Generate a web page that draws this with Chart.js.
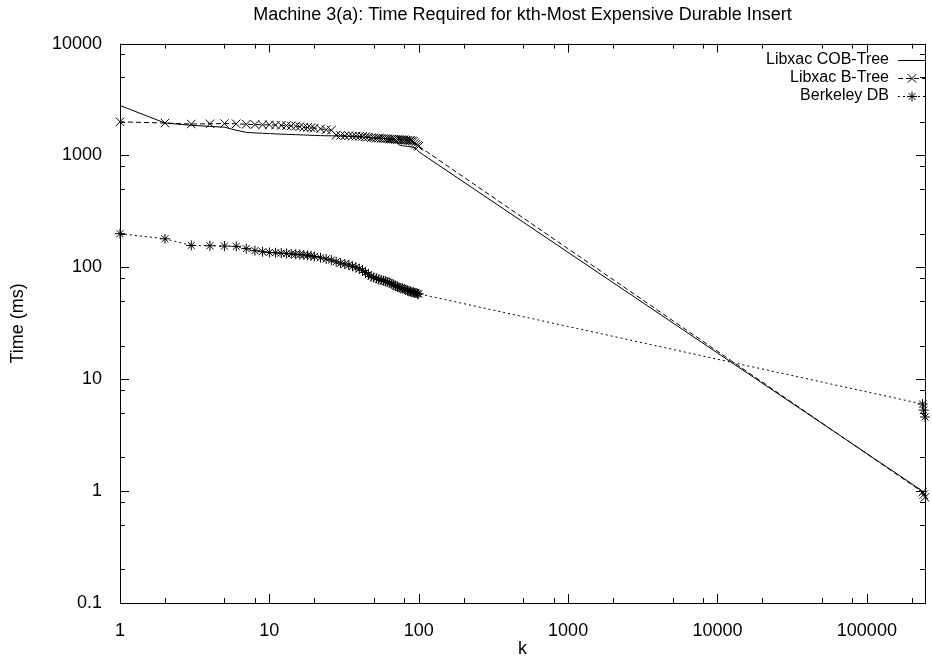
<!DOCTYPE html>
<html>
<head>
<meta charset="utf-8">
<script src="https://cdn.jsdelivr.net/npm/chart.js@4.4.1/dist/chart.umd.min.js"></script>
<style>
  html, body { margin: 0; padding: 0; background: #fff; }
  #wrap { width: 932px; height: 664px; }
</style>
</head>
<body>
<div id="wrap"><canvas id="chart"></canvas></div>
<script>
// k values (rank of insert), shared by all three series
const kValues = [
  1, 2, 3, 4, 5, 6, 7, 8, 9, 10, 11, 12, 13, 14, 15, 16, 17, 18, 19, 20,
  22, 24, 26, 28, 30, 32, 34, 36, 38, 40, 42, 44, 46, 48, 50,
  52, 54, 56, 58, 60, 62, 64, 66, 68, 70, 72, 74, 76, 78, 80,
  82, 84, 86, 88, 90, 92, 94, 96, 98, 100,
  236000, 240000, 245000
];

// time in ms
const cobTree = [
  2800, 1950, 1860, 1820, 1790, 1680, 1610, 1590, 1580, 1570, 1560, 1550, 1545, 1540, 1535, 1530, 1525, 1520, 1515, 1510,
  1505, 1500, 1500, 1495, 1490, 1485, 1480, 1475, 1470, 1465, 1460, 1455, 1450, 1445, 1440,
  1435, 1430, 1425, 1420, 1415, 1410, 1405, 1400, 1395, 1390, 1300, 1240, 1230, 1220, 1215,
  1210, 1205, 1200, 1195, 1190, 1180, 1170, 1150, 1120, 1080,
  1.0, 0.95, 0.9
];

const bTree = [
  2000, 1950, 1910, 1920, 1930, 1920, 1900, 1890, 1880, 1880, 1870, 1860, 1850, 1840, 1830, 1810, 1790, 1780, 1770, 1760,
  1730, 1700, 1680, 1520, 1510, 1500, 1500, 1490, 1490, 1480, 1480, 1470, 1460, 1440, 1440,
  1430, 1430, 1420, 1420, 1410, 1410, 1400, 1400, 1400, 1390, 1390, 1390, 1380, 1380, 1380,
  1370, 1370, 1360, 1360, 1350, 1340, 1300, 1260, 1230, 1210,
  0.98, 0.93, 0.88
];

const berkeleyDb = [
  200, 180, 157, 156, 155, 154, 147, 141, 138, 136, 135, 134, 133, 132, 131, 130, 129, 128, 127, 125,
  122, 119, 116, 112, 109, 107, 105, 102, 100, 97, 94, 90, 86, 83, 81,
  80, 78, 77, 76, 75, 74, 73, 71, 70, 68, 67, 66, 65, 65, 64,
  63, 62, 61, 61, 60, 60, 59, 59, 58, 58,
  6.0, 5.3, 4.6
];

const seriesNames = ['Libxac COB-Tree', 'Libxac B-Tree', 'Berkeley DB'];
const xMajorTicks = [1, 10, 100, 1000, 10000, 100000];
const yMajorTicks = [0.1, 1, 10, 100, 1000, 10000];
const minorSteps = [2, 5, 8];
const xMax = 245000;

const FONT = 'Liberation Sans, Arial, Helvetica, sans-serif';

function withMinor(majors, max) {
  const out = [];
  majors.forEach(m => {
    out.push(m);
    minorSteps.forEach(f => { if (m * f <= max) out.push(+(m * f).toPrecision(6)); });
  });
  return out;
}
const xTickVals = withMinor(xMajorTicks, xMax);
const yTickVals = withMinor(yMajorTicks, 10000);

function toPoints(arr) {
  return kValues.map((k, i) => ({ x: k, y: arr[i] }));
}

// gnuplot style frame with inward ticks on all four sides, plus key
const framePlugin = {
  id: 'frame',
  afterDatasetsDraw(chart) {
    const ctx = chart.ctx;
    const a = chart.chartArea;
    const xs = chart.scales.x, ys = chart.scales.y;
    ctx.save();
    ctx.strokeStyle = '#000';
    ctx.lineWidth = 1;
    ctx.setLineDash([]);
    ctx.strokeRect(Math.round(a.left) + 0.5, Math.round(a.top) + 0.5,
      Math.round(a.right - a.left), Math.round(a.bottom - a.top));
    ctx.beginPath();
    xTickVals.forEach(v => {
      const len = xMajorTicks.includes(v) ? 9 : 5;
      const px = Math.round(xs.getPixelForValue(v)) + 0.5;
      ctx.moveTo(px, a.bottom); ctx.lineTo(px, a.bottom - len);
      ctx.moveTo(px, a.top); ctx.lineTo(px, a.top + len);
    });
    yTickVals.forEach(v => {
      const len = yMajorTicks.includes(v) ? 9 : 5;
      const py = Math.round(ys.getPixelForValue(v)) + 0.5;
      ctx.moveTo(a.left, py); ctx.lineTo(a.left + len, py);
      ctx.moveTo(a.right, py); ctx.lineTo(a.right - len, py);
    });
    ctx.stroke();

    // key, top right inside the plot
    ctx.font = '16px ' + FONT;
    ctx.fillStyle = '#000';
    ctx.textAlign = 'right';
    ctx.textBaseline = 'middle';
    const textRight = 889, lineL = 898, lineR = 926;
    chart.data.datasets.forEach((ds, i) => {
      const y = 60 + i * 18;
      ctx.fillText(ds.label, textRight, y);
      ctx.beginPath();
      ctx.setLineDash(ds.borderDash || []);
      ctx.moveTo(lineL, y + 0.5); ctx.lineTo(lineR, y + 0.5);
      ctx.stroke();
      ctx.setLineDash([]);
      if (ds.pointStyle) {
        Chart.helpers.drawPoint(ctx, {
          pointStyle: ds.pointStyle, radius: ds.pointRadius, rotation: 0, borderWidth: 1
        }, (lineL + lineR) / 2, y + 0.5);
      }
    });
    ctx.restore();
  }
};

const lineBase = {
  showLine: true,
  borderColor: '#000',
  backgroundColor: '#000',
  borderWidth: 1,
  pointBorderColor: '#000',
  pointBorderWidth: 1,
  tension: 0,
  clip: false
};

new Chart(document.getElementById('chart'), {
  type: 'scatter',
  data: {
    datasets: [
      Object.assign({}, lineBase, {
        label: seriesNames[0], data: toPoints(cobTree),
        pointRadius: 0, pointStyle: false
      }),
      Object.assign({}, lineBase, {
        label: seriesNames[1], data: toPoints(bTree),
        borderDash: [5, 3], pointStyle: 'crossRot', pointRadius: 6
      }),
      Object.assign({}, lineBase, {
        label: seriesNames[2], data: toPoints(berkeleyDb),
        borderDash: [2, 3], pointStyle: 'star', pointRadius: 5
      })
    ]
  },
  options: {
    responsive: true,
    maintainAspectRatio: false,
    animation: false,
    layout: { padding: { top: 0, right: 2, bottom: 0, left: 0 } },
    plugins: {
      legend: { display: false },
      tooltip: { enabled: false },
      title: {
        display: true,
        fullSize: false,
        text: 'Machine 3(a): Time Required for kth-Most Expensive Durable Insert',
        color: '#000',
        font: { family: FONT, size: 18, weight: 'normal' },
        padding: { top: 4, bottom: 18 }
      }
    },
    scales: {
      x: {
        type: 'logarithmic',
        min: 1,
        max: xMax,
        afterBuildTicks: s => { s.ticks = xTickVals.map(v => ({ value: v })); },
        afterFit: s => { s.height = 61; },
        grid: { display: false },
        border: { display: false },
        ticks: {
          autoSkip: false, maxRotation: 0, color: '#000', padding: 9,
          font: { family: FONT, size: 18 },
          callback: v => xMajorTicks.includes(v) ? String(v) : ''
        },
        title: {
          display: true, text: 'k', color: '#000',
          font: { family: FONT, size: 18 }, padding: { top: 0, bottom: 4 }
        }
      },
      y: {
        type: 'logarithmic',
        min: 0.1,
        max: 10000,
        afterBuildTicks: s => { s.ticks = yTickVals.map(v => ({ value: v })); },
        afterFit: s => { s.width = 120; },
        grid: { display: false },
        border: { display: false },
        ticks: {
          autoSkip: false, color: '#000', padding: 10,
          font: { family: FONT, size: 18 },
          callback: v => yMajorTicks.includes(v) ? String(v) : ''
        },
        title: {
          display: true, text: 'Time (ms)', color: '#000',
          font: { family: FONT, size: 18 }, padding: { top: 7, bottom: 0 }
        }
      }
    }
  },
  plugins: [framePlugin]
});
</script>
</body>
</html>
